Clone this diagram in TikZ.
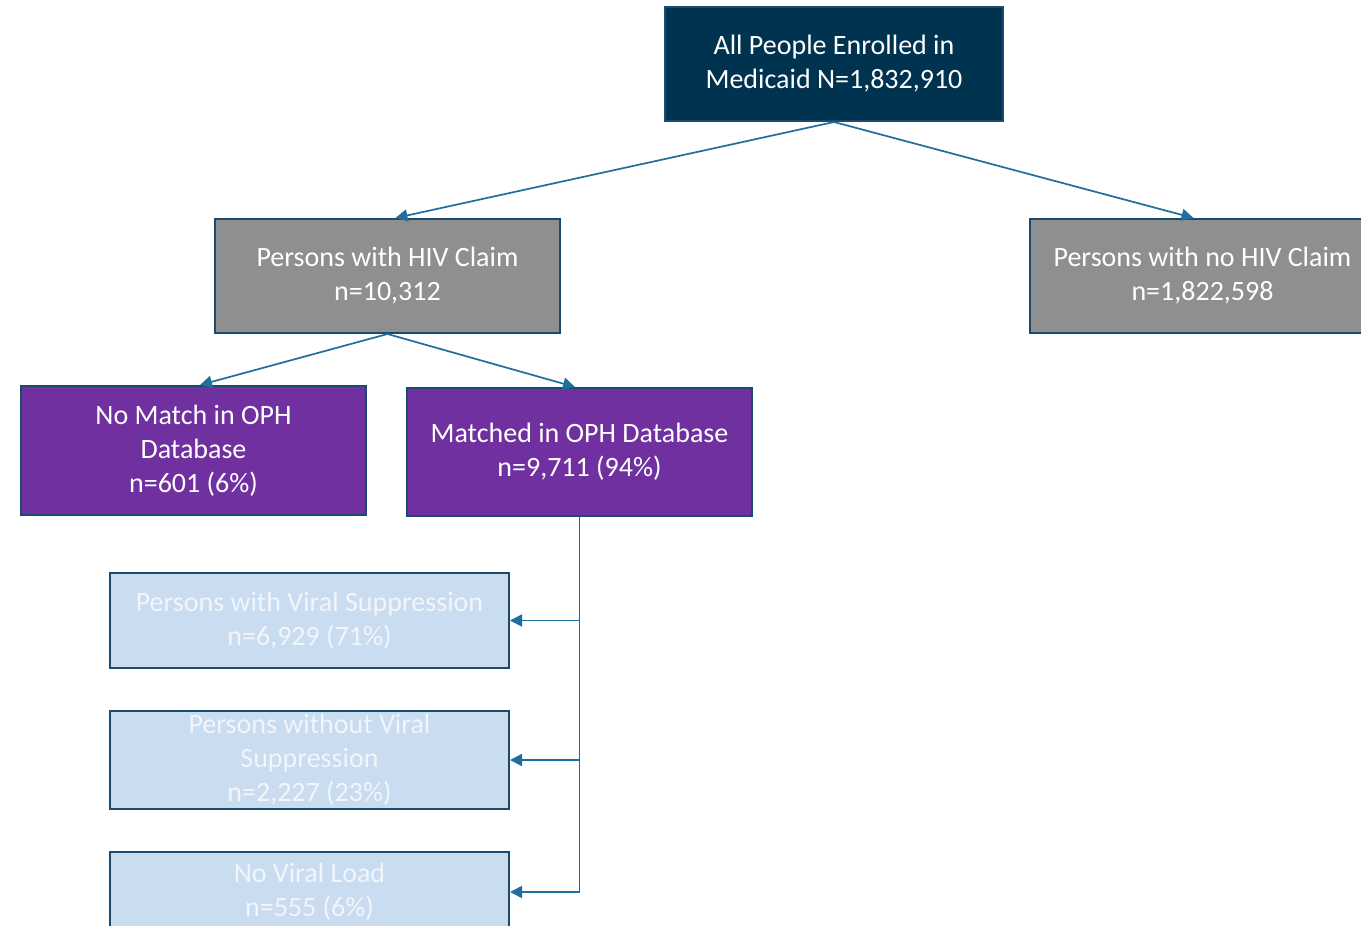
\documentclass[tikz,border=0pt]{standalone}
\usepackage{fontspec}
\setmainfont{Carlito}
\usetikzlibrary{calc,arrows.meta}
\definecolor{navy}{HTML}{003350}
\definecolor{edge}{HTML}{1A4A6E}
\definecolor{conn}{HTML}{1F6E9C}
\definecolor{grayfill}{HTML}{8F8F8F}
\definecolor{purp}{HTML}{7030A0}
\definecolor{lblue}{HTML}{C9DCF0}
\definecolor{ltext}{HTML}{F2F6FB}
\begin{document}
\begin{tikzpicture}[x=0.5pt,y=-0.5pt,
  box/.style={draw=edge,line width=1pt,rectangle,align=center,inner sep=0pt,
    font=\fontsize{14}{17}\selectfont},
  topbox/.style={box,fill=navy,text=white},
  graybox/.style={box,fill=grayfill,text=white},
  purpbox/.style={box,fill=purp,text=white},
  lbox/.style={box,fill=lblue,text=ltext},
  conn/.style={draw=conn,line width=0.85pt,-{Triangle[length=6pt,width=6pt]}}]
\useasboundingbox (0,0) rectangle (1361,926);
\clip (0,0) rectangle (1361,926);
\fill[white] (0,0) rectangle (1361,926);
\node[topbox,minimum width=169pt,minimum height=57pt] (top) at (834,64) {All People Enrolled in\\Medicaid N=1,832,910};
\node[graybox,minimum width=172.5pt,minimum height=57pt] (hiv) at (387.5,276) {Persons with HIV Claim\\n=10,312};
\node[graybox,minimum width=172.5pt,minimum height=57pt] (nohiv) at (1202.5,276) {Persons with no HIV Claim\\n=1,822,598};
\node[purpbox,minimum width=172.5pt,minimum height=64.5pt] (nomatch) at (193.5,450.5) {No Match in OPH\\Database\\n=601 (6\%)};
\node[purpbox,minimum width=172.5pt,minimum height=64pt] (matched) at (579.5,452) {Matched in OPH Database\\n=9,711 (94\%)};
\node[lbox,minimum width=199.5pt,minimum height=47.5pt] (viral) at (309.5,620.5) {Persons with Viral Suppression\\n=6,929 (71\%)};
\node[lbox,minimum width=199.5pt,minimum height=49pt] (without) at (309.5,760) {Persons without Viral\\Suppression\\n=2,227 (23\%)};
\node[lbox,minimum width=199.5pt,minimum height=40pt] (novl) at (309.5,892) {No Viral Load\\n=555 (6\%)};
\draw[conn] (top.south) -- ($(hiv.north)+(8,0)$);
\draw[conn] (top.south) -- ($(nohiv.north)+(-9,0)$);
\draw[conn] (hiv.south) -- ($(nomatch.north)+(6.5,0)$);
\draw[conn] (hiv.south) -- ($(matched.north)+(-4.5,0)$);
\draw[conn] (matched.south) |- (viral.east);
\draw[conn] (matched.south) |- (without.east);
\draw[conn] (matched.south) |- (novl.east);
\end{tikzpicture}
\end{document}
